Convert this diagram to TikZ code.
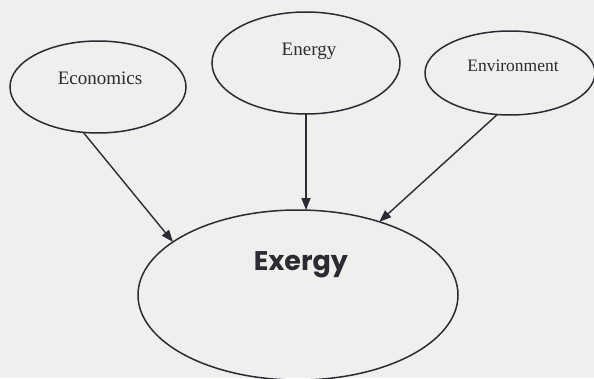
\documentclass[tikz,border=0pt]{standalone}
\usepackage{fontspec}
\setmainfont{Liberation Serif}
\newfontfamily\geofont{Poppins}
\usepackage{tikz}
\usetikzlibrary{shapes.geometric,arrows.meta}
\tikzset{>={Triangle[length=12pt,width=9pt]}}
\definecolor{Ink}{HTML}{2B2B33}
\definecolor{PaperBG}{HTML}{EFEFED}
\newcommand{\smallfont}{\fontsize{19}{22}\selectfont}
\newcommand{\envfont}{\fontsize{17.5}{21}\selectfont}
\newcommand{\bigfont}{\geofont\fontsize{27}{32}\selectfont\bfseries}
\tikzset{
  bubble/.style={ellipse, draw=Ink, line width=1.5pt, inner sep=0pt, outer sep=0pt},
  feed/.style={->, draw=Ink, line width=1.4pt}
}

\begin{document}
\begin{tikzpicture}[x=1pt,y=1pt]
  \fill[PaperBG] (0,0) rectangle (594,378);
  \useasboundingbox (0,0) rectangle (594,378);

  %% Economics
  \node[bubble, minimum width=176pt, minimum height=92pt] (econ) at (98, 291) {};
  \node[text=Ink, font=\smallfont] (econ-text) at (100, 300) {Economics};

  %% Energy
  \node[bubble, minimum width=188pt, minimum height=102pt] (energy) at (306, 315) {};
  \node[text=Ink, font=\smallfont] (energy-text) at (309, 327) {Energy};

  %% Environment
  \node[bubble, minimum width=170pt, minimum height=84pt] (envir) at (510, 305) {};
  \node[text=Ink, font=\envfont] (envir-text) at (513, 312) {Environment};

  %% Exergy
  \node[bubble, minimum width=320pt, minimum height=170pt] (exergy) at (298, 83) {};
  \node[text=Ink, font=\bigfont] (exergy-text) at (301, 113) {Exergy};

  %% arrows
  \draw[feed] (econ.-108) -- (exergy.157);
  \draw[feed] (energy.south) -- (energy.south |- exergy.north);
  \draw[feed] (envir.-107) -- (exergy.42);
\end{tikzpicture}
\end{document}
